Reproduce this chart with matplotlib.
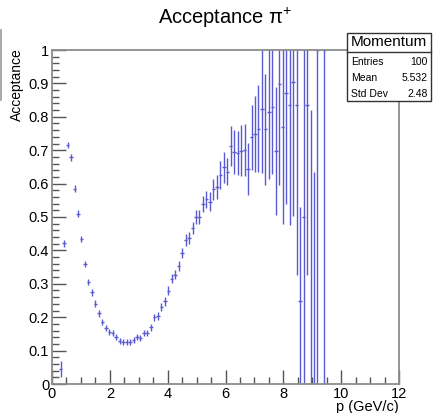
import matplotlib
matplotlib.use("Agg")
import matplotlib.pyplot as plt
from matplotlib.lines import Line2D
from matplotlib.ticker import MultipleLocator, FixedLocator
import numpy as np

plt.rcParams['font.family'] = ['Liberation Sans', 'DejaVu Sans']
plt.rcParams['mathtext.fontset'] = 'custom'
plt.rcParams['mathtext.rm'] = 'Liberation Sans'
plt.rcParams['mathtext.it'] = 'Liberation Sans'

# Bin centres (GeV/c), bin width 0.12
p_centers = [0.30, 0.42, 0.54, 0.66, 0.78, 0.90, 1.02, 1.14, 1.26, 1.38,
             1.50, 1.62, 1.74, 1.86, 1.98, 2.10, 2.22, 2.34, 2.46, 2.58,
             2.70, 2.82, 2.94, 3.06, 3.18, 3.30, 3.42, 3.54, 3.66, 3.78,
             3.90, 4.02, 4.14, 4.26, 4.38, 4.50, 4.62, 4.74, 4.86, 4.98,
             5.10, 5.22, 5.34, 5.46, 5.58, 5.70, 5.82, 5.94, 6.06, 6.18,
             6.30, 6.42, 6.54, 6.66, 6.78, 6.90, 7.02, 7.14, 7.26, 7.38,
             7.50, 7.62, 7.74, 7.86, 7.98, 8.10, 8.22, 8.34, 8.46, 8.58,
             8.70, 8.82, 8.94, 9.06, 9.18, 9.42]
acceptance = [0.045, 0.421, 0.716, 0.679, 0.585, 0.510, 0.434, 0.359, 0.305, 0.274,
              0.241, 0.212, 0.185, 0.167, 0.155, 0.152, 0.142, 0.129, 0.127, 0.126,
              0.127, 0.132, 0.142, 0.137, 0.152, 0.152, 0.170, 0.200, 0.204, 0.230,
              0.248, 0.279, 0.315, 0.327, 0.353, 0.392, 0.431, 0.438, 0.467, 0.501,
              0.500, 0.538, 0.553, 0.546, 0.583, 0.590, 0.626, 0.649, 0.636, 0.713,
              0.695, 0.692, 0.699, 0.701, 0.643, 0.739, 0.748, 0.764, 0.823, 0.762,
              0.813, 0.828, 0.698, 0.897, 0.768, 0.870, 0.835, 0.903, 0.835, 0.249,
              0.500, 0.835, 0.000, 0.000, 1.000, 1.000]
acc_err = [0.025, 0.010, 0.010, 0.010, 0.010, 0.010, 0.010, 0.010, 0.010, 0.010,
           0.010, 0.010, 0.009, 0.009, 0.009, 0.009, 0.009, 0.009, 0.009, 0.009,
           0.009, 0.009, 0.009, 0.009, 0.009, 0.009, 0.010, 0.011, 0.012, 0.012,
           0.013, 0.013, 0.014, 0.014, 0.015, 0.016, 0.017, 0.018, 0.019, 0.021,
           0.022, 0.024, 0.026, 0.028, 0.031, 0.035, 0.042, 0.046, 0.041, 0.060,
           0.066, 0.065, 0.075, 0.077, 0.078, 0.097, 0.114, 0.130, 0.190, 0.166,
           0.200, 0.200, 0.192, 0.300, 0.290, 0.330, 0.360, 0.400, 0.510, 0.280,
           0.600, 0.510, 0.820, 0.636, 1.000, 1.000]
bin_width = 0.12

y_ticks = [0, 0.1, 0.2, 0.3, 0.4, 0.5, 0.6, 0.7, 0.8, 0.9, 1]
y_ticklabels = ['0', '0.1', '0.2', '0.3', '0.4', '0.5', '0.6', '0.7', '0.8', '0.9', '1']
x_ticks = [0, 2, 4, 6, 8, 10, 12]
x_ticklabels = ['0', '2', '4', '6', '8', '10', '12']

stats_title = 'Momentum'
stats_rows = [('Entries', '100'), ('Mean', '5.532'), ('Std Dev', '2.48')]

W, H = 434, 413
fig = plt.figure(figsize=(W / 100, H / 100), dpi=100)
ax = fig.add_axes([52 / W, 29 / H, (399 - 52) / W, (384 - 50) / H])

ax.errorbar(p_centers, acceptance, xerr=bin_width / 2, yerr=acc_err,
            fmt='none', ecolor='#5a5ad2', elinewidth=1.0, capsize=0)

ax.set_xlim(0, 12)
ax.set_ylim(0, 1)

frame_c = '#8c8c8c'
for s in ax.spines.values():
    s.set_color(frame_c)
    s.set_linewidth(1.3)

ax.xaxis.set_major_locator(FixedLocator(x_ticks))
ax.set_xticklabels(x_ticklabels)
ax.xaxis.set_minor_locator(MultipleLocator(0.5))
ax.yaxis.set_major_locator(FixedLocator(y_ticks))
ax.set_yticklabels(y_ticklabels)
ax.yaxis.set_minor_locator(MultipleLocator(0.02))

ax.tick_params(axis='both', which='both', direction='in', colors='#555555',
               labelcolor='black', labelsize=10.5)
ax.tick_params(axis='both', which='major', length=10, width=1.0)
ax.tick_params(axis='both', which='minor', length=5, width=1.0)
ax.tick_params(axis='x', which='major', pad=2)
ax.tick_params(axis='y', which='major', pad=2)
ax.tick_params(top=False, right=False, which='both')

fig.text(225 / W, 1 - 18 / H, 'Acceptance \u03c0$^{+}$', ha='center', va='center',
         fontsize=14.5)
fig.text(17 / W, 1 - 48 / H, 'Acceptance', rotation=90, ha='center', va='top',
         fontsize=10)
fig.text(399 / W, 1 - 407.5 / H, 'p (GeV/c)', ha='right', va='center', fontsize=10.5)

# stats box
bx0, by0, bx1, by1 = 347, 33, 431, 101
bsep = 52
box = plt.Rectangle((bx0 / W, 1 - by1 / H), (bx1 - bx0) / W, (by1 - by0) / H,
                    transform=fig.transFigure, facecolor='white',
                    edgecolor='#333333', linewidth=1.0, zorder=5)
fig.add_artist(box)
fig.add_artist(Line2D([bx0 / W, bx1 / W], [1 - bsep / H, 1 - bsep / H],
                      transform=fig.transFigure, color='#333333', lw=1.0, zorder=6))
fig.text((bx0 + bx1) / 2 / W, 1 - 42.5 / H, stats_title, ha='center', va='center',
         fontsize=11, zorder=7)
row_y = [62, 78, 94]
for (lab, val), yy in zip(stats_rows, row_y):
    fig.text((bx0 + 4) / W, 1 - yy / H, lab, ha='left', va='center', fontsize=7.5, zorder=7)
    fig.text((bx1 - 3) / W, 1 - yy / H, val, ha='right', va='center', fontsize=7.5, zorder=7)

# small grey edge line at far left (from the reference)
fig.add_artist(Line2D([1 / W, 1 / W], [1 - 30 / H, 1 - 100 / H],
                      transform=fig.transFigure, color='#999999', lw=1.2))

fig.savefig('out.png', dpi=100)
